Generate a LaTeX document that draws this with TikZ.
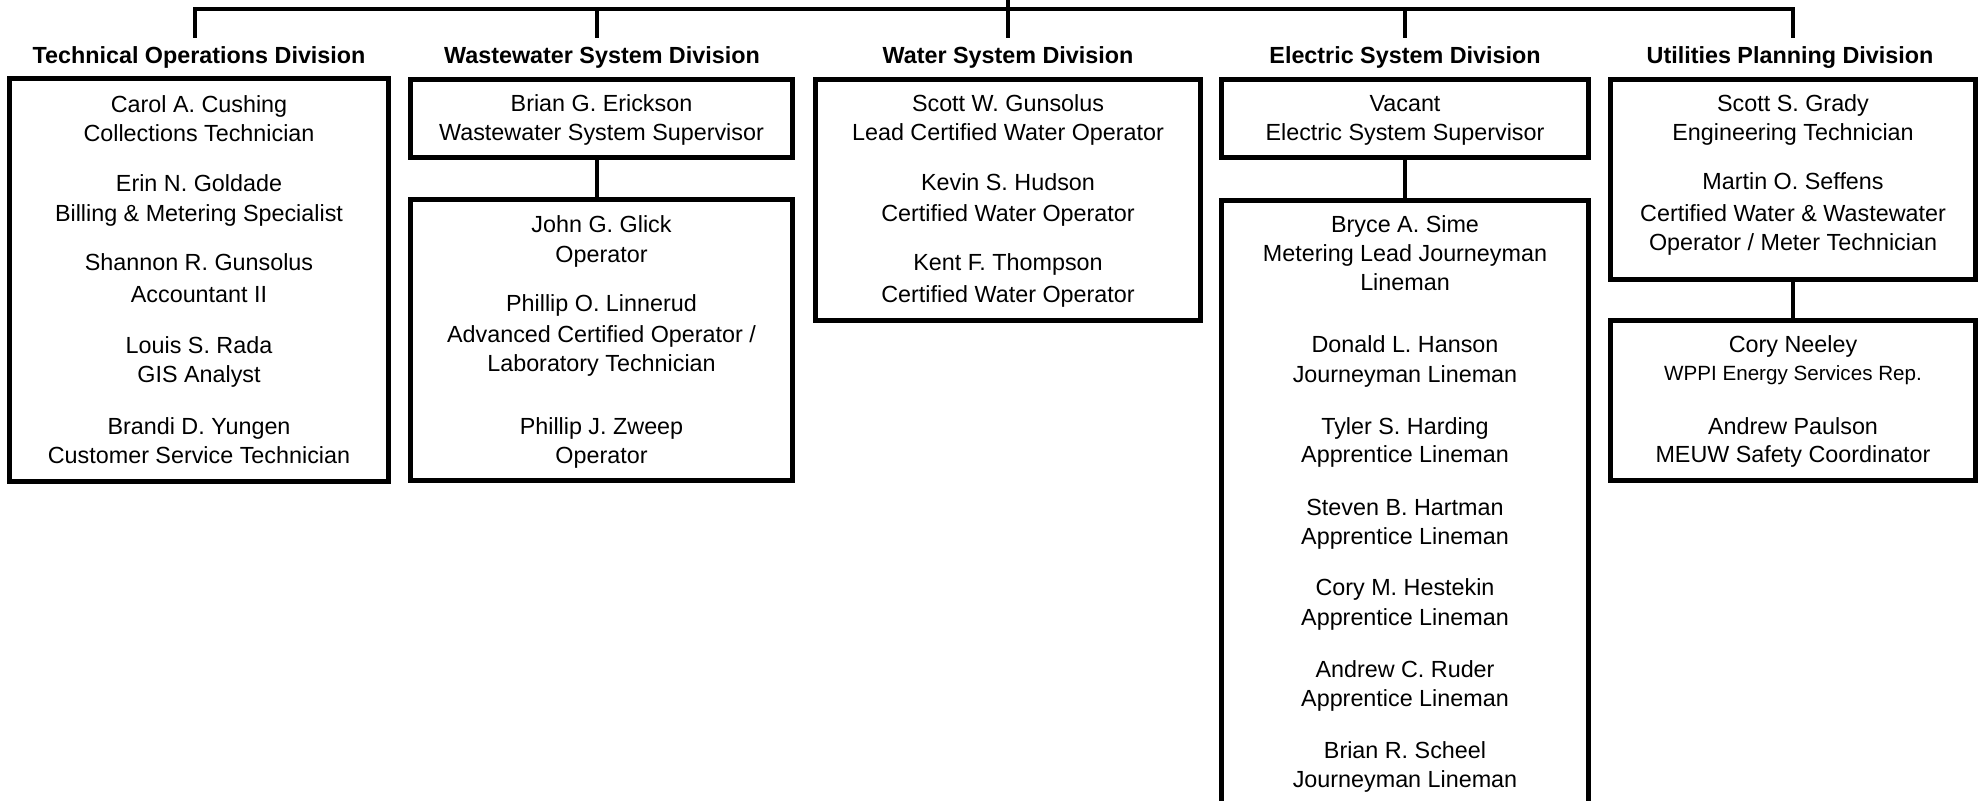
\documentclass[tikz,border=0pt]{standalone}
\usepackage{fontspec}
\setmainfont{Liberation Sans}
\begin{document}
\begin{tikzpicture}[x=0.5pt,y=-0.5pt,
  box/.style={draw=black, line width=2.5pt, rectangle, inner sep=0pt, outer sep=0pt},
  conn/.style={draw=black, line width=1.75pt},
  txt/.style={anchor=base, inner sep=0pt, font=\fontsize{11.67}{14}\selectfont},
  smalltxt/.style={anchor=base, inner sep=0pt, font=\fontsize{10.3}{12}\selectfont},
  ttl/.style={anchor=base, inner sep=0pt, font=\fontsize{11.67}{14}\selectfont\bfseries}]
\useasboundingbox (0,0) rectangle (1986,801);
\clip (0,0) rectangle (1986,801);
\fill[white] (0,0) rectangle (1986,801);

% boxes
\node[box, minimum width=189.5pt, minimum height=201.5pt] (tech) at (199,280) {};
\node[box, minimum width=191pt, minimum height=39pt] (wwsup) at (601.5,118.5) {};
\node[box, minimum width=191pt, minimum height=140.5pt] (wwstaff) at (601.5,340) {};
\node[box, minimum width=192.5pt, minimum height=120.5pt] (water) at (1008,200) {};
\node[box, minimum width=183.5pt, minimum height=39pt] (elsup) at (1405,118.5) {};
\node[box, minimum width=183.5pt, minimum height=360pt] (elstaff) at (1405,560.5) {};
\node[box, minimum width=182.5pt, minimum height=100pt] (util) at (1793,179.5) {};
\node[box, minimum width=182.5pt, minimum height=80pt] (utiltwo) at (1793,400.5) {};

% top bar and drops
\coordinate (topend) at (1008,0);
\coordinate (barmid) at (1008,9);
\coordinate (d1) at (195,38);
\coordinate (d2) at (597,38);
\coordinate (d3) at (1008,38);
\coordinate (d4) at (1405,38);
\coordinate (d5) at (1793,38);
\draw[conn] (d1) -- (barmid -| d1) -- (barmid -| d5) -- (d5);
\draw[conn] (topend) -- (d3);
\draw[conn] (barmid -| d2) -- (d2);
\draw[conn] (barmid -| d4) -- (d4);

% box-to-box connectors
\draw[conn] (wwsup.south -| d2) -- (wwstaff.north -| d2);
\draw[conn] (elsup.south) -- (elstaff.north);
\draw[conn] (util.south) -- (utiltwo.north);

% titles
\node[ttl] (ttech) at (199,64) {Technical Operations Division};
\node[ttl] (tww) at (602,64) {Wastewater System Division};
\node[ttl] (twater) at (1008,64) {Water System Division};
\node[ttl] (telec) at (1405,64) {Electric System Division};
\node[ttl] (tutil) at (1790,64) {Utilities Planning Division};

% technical operations
\node[txt] (a1) at (199,113) {Carol A. Cushing};
\node[txt] (a2) at (199,142) {Collections Technician};
\node[txt] (a3) at (199,192) {Erin N. Goldade};
\node[txt] (a4) at (199,222) {Billing \& Metering Specialist};
\node[txt] (a5) at (199,271) {Shannon R. Gunsolus};
\node[txt] (a6) at (199,303) {Accountant II};
\node[txt] (a7) at (199,354) {Louis S. Rada};
\node[txt] (a8) at (199,383) {GIS Analyst};
\node[txt] (a9) at (199,435) {Brandi D. Yungen};
\node[txt] (a10) at (199,464) {Customer Service Technician};

% wastewater
\node[txt] (b1) at (601.5,112) {Brian G. Erickson};
\node[txt] (b2) at (601.5,141) {Wastewater System Supervisor};
\node[txt] (b3) at (601.5,233) {John G. Glick};
\node[txt] (b4) at (601.5,263) {Operator};
\node[txt] (b5) at (601.5,312) {Phillip O. Linnerud};
\node[txt] (b6) at (601.5,343) {Advanced Certified Operator /};
\node[txt] (b7) at (601.5,372) {Laboratory Technician};
\node[txt] (b8) at (601.5,435) {Phillip J. Zweep};
\node[txt] (b9) at (601.5,464) {Operator};

% water
\node[txt] (c1) at (1008,112) {Scott W. Gunsolus};
\node[txt] (c2) at (1008,141) {Lead Certified Water Operator};
\node[txt] (c3) at (1008,191) {Kevin S. Hudson};
\node[txt] (c4) at (1008,222) {Certified Water Operator};
\node[txt] (c5) at (1008,271) {Kent F. Thompson};
\node[txt] (c6) at (1008,303) {Certified Water Operator};

% electric
\node[txt] (e1) at (1405,112) {Vacant};
\node[txt] (e2) at (1405,141) {Electric System Supervisor};
\node[txt] (e3) at (1405,233) {Bryce A. Sime};
\node[txt] (e4) at (1405,262) {Metering Lead Journeyman};
\node[txt] (e5) at (1405,291) {Lineman};
\node[txt] (e6) at (1405,353) {Donald L. Hanson};
\node[txt] (e7) at (1405,383) {Journeyman Lineman};
\node[txt] (e8) at (1405,435) {Tyler S. Harding};
\node[txt] (e9) at (1405,463) {Apprentice Lineman};
\node[txt] (e10) at (1405,516) {Steven B. Hartman};
\node[txt] (e11) at (1405,545) {Apprentice Lineman};
\node[txt] (e12) at (1405,596) {Cory M. Hestekin};
\node[txt] (e13) at (1405,625) {Apprentice Lineman};
\node[txt] (e14) at (1405,677) {Andrew C. Ruder};
\node[txt] (e15) at (1405,706) {Apprentice Lineman};
\node[txt] (e16) at (1405,758) {Brian R. Scheel};
\node[txt] (e17) at (1405,787) {Journeyman Lineman};

% utilities planning
\node[txt] (f1) at (1793,112) {Scott S. Grady};
\node[txt] (f2) at (1793,141) {Engineering Technician};
\node[txt] (f3) at (1793,190) {Martin O. Seffens};
\node[txt] (f4) at (1793,222) {Certified Water \& Wastewater};
\node[txt] (f5) at (1793,251) {Operator / Meter Technician};
\node[txt] (f6) at (1793,353) {Cory Neeley};
\node[smalltxt] (f7) at (1793,381) {WPPI Energy Services Rep.};
\node[txt] (f8) at (1793,435) {Andrew Paulson};
\node[txt] (f9) at (1793,463) {MEUW Safety Coordinator};
\end{tikzpicture}
\end{document}
